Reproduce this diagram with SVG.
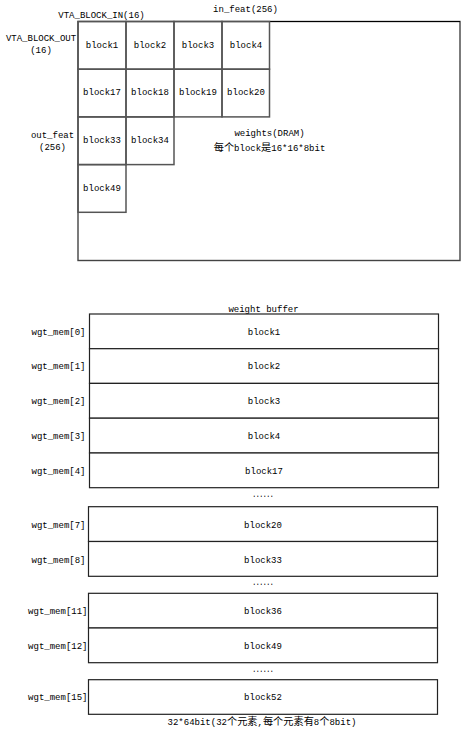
<svg xmlns="http://www.w3.org/2000/svg" width="462" height="734" viewBox="0 0 462 734">
<style>
text{font-family:"Liberation Mono","Noto Sans CJK SC",monospace;font-size:9px;fill:#000}
.c{text-anchor:middle}
.r{text-anchor:end}
.cjk{font-family:"Noto Sans CJK SC",sans-serif;font-size:10.2px}
.box{fill:#fff;stroke:#444;stroke-width:1.4}
.cell{fill:none;stroke:#555;stroke-width:1.5}
.row{fill:#fff;stroke:#222;stroke-width:1.2}
</style>
<rect width="462" height="734" fill="#fff"/>
<g id="dram">
<rect class="box" x="78" y="21.5" width="382" height="239"/>
<line x1="78" y1="21.5" x2="460" y2="21.5" stroke="#000" stroke-width="1.2"/>
<text class="c" x="101.5" y="17.5">VTA_BLOCK_IN(16)</text>
<text class="c" x="245.5" y="12">in_feat(256)</text>
<text class="c" x="41" y="40.5">VTA_BLOCK_OUT</text>
<text class="c" x="41" y="53">(16)</text>
<text class="c" x="52.5" y="137.5">out_feat</text>
<text class="c" x="52.5" y="149.5">(256)</text>
<text class="c" x="269.5" y="136">weights(DRAM)</text>
<text class="c" x="269.5" y="151"><tspan class="cjk">每个</tspan>block<tspan class="cjk">是</tspan>16*16*8bit</text>
</g>
<g id="cell-block1"><rect class="cell" x="78" y="21.5" width="48" height="47.7"/><text class="c" x="102" y="47.5">block1</text></g>
<g id="cell-block2"><rect class="cell" x="126" y="21.5" width="48" height="47.7"/><text class="c" x="150" y="47.5">block2</text></g>
<g id="cell-block3"><rect class="cell" x="174" y="21.5" width="48" height="47.7"/><text class="c" x="198" y="47.5">block3</text></g>
<g id="cell-block4"><rect class="cell" x="222" y="21.5" width="47.5" height="47.7"/><text class="c" x="246" y="47.5">block4</text></g>
<g id="cell-block17"><rect class="cell" x="78" y="69.2" width="48" height="47.7"/><text class="c" x="102" y="95">block17</text></g>
<g id="cell-block18"><rect class="cell" x="126" y="69.2" width="48" height="47.7"/><text class="c" x="150" y="95">block18</text></g>
<g id="cell-block19"><rect class="cell" x="174" y="69.2" width="48" height="47.7"/><text class="c" x="198" y="95">block19</text></g>
<g id="cell-block20"><rect class="cell" x="222" y="69.2" width="47.5" height="47.7"/><text class="c" x="246" y="95">block20</text></g>
<g id="cell-block33"><rect class="cell" x="78" y="116.9" width="48" height="47.7"/><text class="c" x="102" y="143">block33</text></g>
<g id="cell-block34"><rect class="cell" x="126" y="116.9" width="48" height="47.7"/><text class="c" x="150" y="143">block34</text></g>
<g id="cell-block49"><rect class="cell" x="78" y="164.6" width="48" height="47.7"/><text class="c" x="102" y="191">block49</text></g>

<g id="buffer-title"><text class="c" x="263.5" y="312">weight buffer</text></g>
<g id="wgt0"><rect class="row" x="89.5" y="314" width="349" height="34.7"/><text class="r" x="85.5" y="334.5">wgt_mem[0]</text><text class="c" x="264" y="334.5">block1</text></g>
<g id="wgt1"><rect class="row" x="89.5" y="348.7" width="349" height="34.7"/><text class="r" x="85.5" y="369">wgt_mem[1]</text><text class="c" x="264" y="369">block2</text></g>
<g id="wgt2"><rect class="row" x="89.5" y="383.4" width="349" height="34.8"/><text class="r" x="85.5" y="404">wgt_mem[2]</text><text class="c" x="264" y="404">block3</text></g>
<g id="wgt3"><rect class="row" x="89.5" y="418.2" width="349" height="34.8"/><text class="r" x="85.5" y="438.8">wgt_mem[3]</text><text class="c" x="264" y="438.8">block4</text></g>
<g id="wgt4"><rect class="row" x="89.5" y="453" width="349" height="34.7"/><text class="r" x="85.5" y="473.5">wgt_mem[4]</text><text class="c" x="264" y="473.5">block17</text></g>
<text class="c" x="263" y="497" textLength="21" lengthAdjust="spacingAndGlyphs" font-weight="bold">......</text>
<g id="wgt7"><rect class="row" x="88.5" y="506.7" width="349" height="34.8"/><text class="r" x="85.5" y="527.5">wgt_mem[7]</text><text class="c" x="263" y="527.5">block20</text></g>
<g id="wgt8"><rect class="row" x="88.5" y="541.5" width="349" height="34.8"/><text class="r" x="85.5" y="562.5">wgt_mem[8]</text><text class="c" x="263" y="562.5">block33</text></g>
<text class="c" x="263" y="585" textLength="21" lengthAdjust="spacingAndGlyphs" font-weight="bold">......</text>
<g id="wgt11"><rect class="row" x="88.5" y="593.3" width="349" height="34.7"/><text class="r" x="87.5" y="614">wgt_mem[11]</text><text class="c" x="263" y="614">block36</text></g>
<g id="wgt12"><rect class="row" x="88.5" y="628" width="349" height="34.7"/><text class="r" x="87.5" y="648.5">wgt_mem[12]</text><text class="c" x="263" y="648.5">block49</text></g>
<text class="c" x="263" y="672" textLength="21" lengthAdjust="spacingAndGlyphs" font-weight="bold">......</text>
<g id="wgt15"><rect class="row" x="88.5" y="679.7" width="349" height="34.6"/><text class="r" x="87.5" y="700">wgt_mem[15]</text><text class="c" x="263" y="700">block52</text></g>
<g id="buffer-caption"><text class="c" x="262" y="725">32*64bit(32<tspan class="cjk">个元素</tspan>,<tspan class="cjk">每个元素有</tspan>8<tspan class="cjk">个</tspan>8bit)</text></g>
<g id="connectors"/>
</svg>
